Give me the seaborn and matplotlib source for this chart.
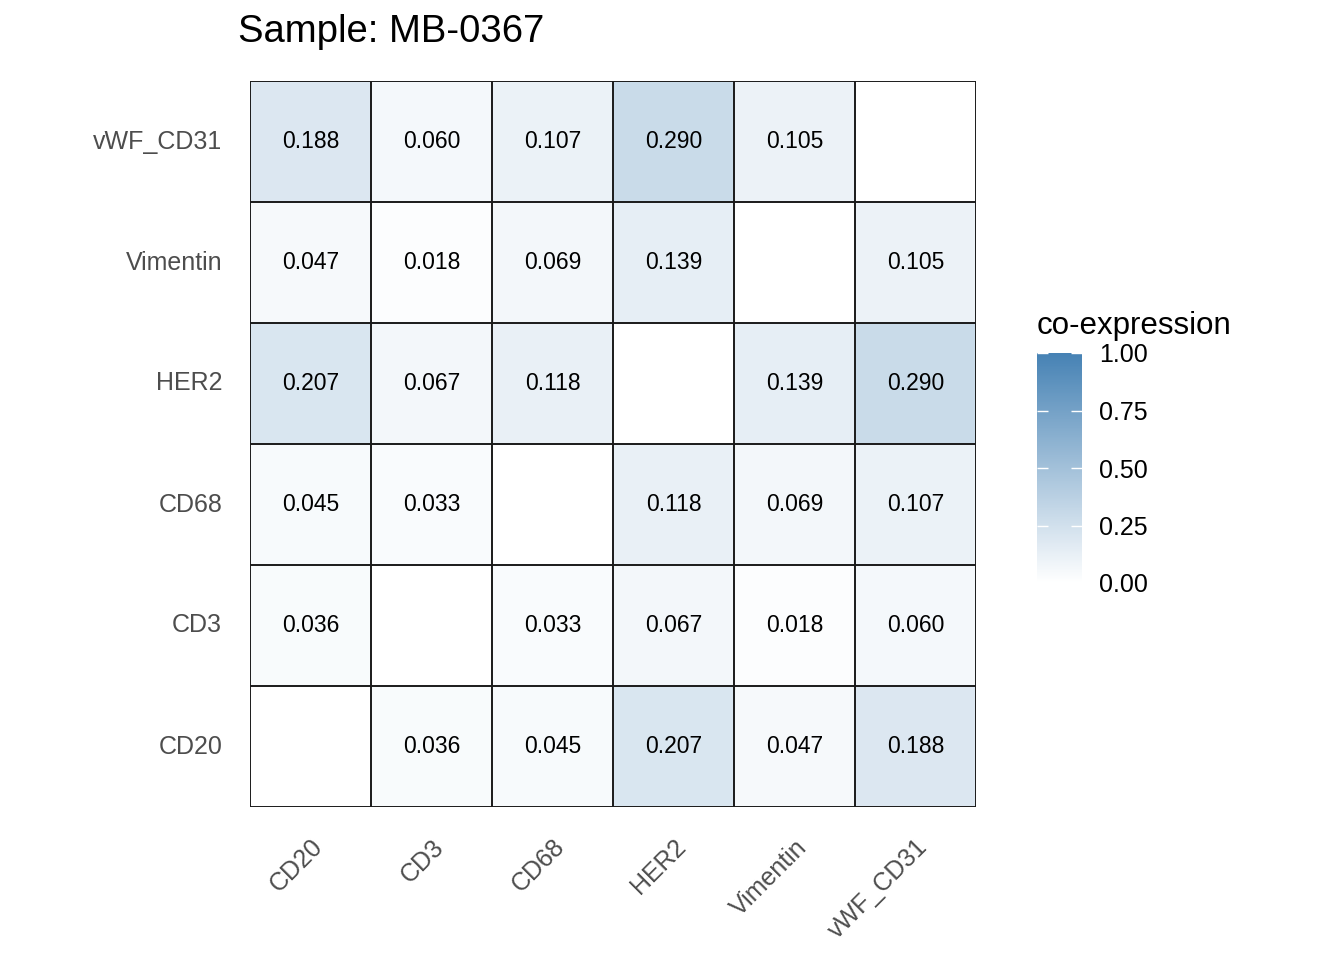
import numpy as np
import pandas as pd
import matplotlib
matplotlib.use("Agg")
import matplotlib.pyplot as plt
import seaborn as sns
from matplotlib.colors import LinearSegmentedColormap

markers = ["CD20", "CD3", "CD68", "HER2", "Vimentin", "vWF_CD31"]

# upper triangle of the symmetric co-expression matrix (row, col, value)
pairs = [
    ("CD20", "CD3", 0.036), ("CD20", "CD68", 0.045), ("CD20", "HER2", 0.207),
    ("CD20", "Vimentin", 0.047), ("CD20", "vWF_CD31", 0.188),
    ("CD3", "CD68", 0.033), ("CD3", "HER2", 0.067), ("CD3", "Vimentin", 0.018),
    ("CD3", "vWF_CD31", 0.060),
    ("CD68", "HER2", 0.118), ("CD68", "Vimentin", 0.069), ("CD68", "vWF_CD31", 0.107),
    ("HER2", "Vimentin", 0.139), ("HER2", "vWF_CD31", 0.290),
    ("Vimentin", "vWF_CD31", 0.105),
]
cbar_ticks = [0.0, 0.25, 0.5, 0.75, 1.0]

mat = pd.DataFrame(np.nan, index=markers, columns=markers)
for a, b, v in pairs:
    mat.loc[a, b] = v
    mat.loc[b, a] = v
# top row = vWF_CD31
mat = mat.iloc[::-1]

sns.set_style("white")
plt.rcParams['font.family'] = ['Liberation Sans', 'DejaVu Sans']

cmap = LinearSegmentedColormap.from_list("wb", ["#FFFFFF", "#4682B4"])

fig = plt.figure(figsize=(13.44, 9.6), dpi=100)
W, H = 1344, 960
ax = fig.add_axes([250 / W, 1 - 807 / H, 726 / W, 726 / H])
cax = fig.add_axes([1037 / W, 1 - 583 / H, 45 / W, 230 / H])

sns.heatmap(mat, ax=ax, cmap=cmap, vmin=0, vmax=1, annot=True, fmt=".3f",
            annot_kws={"fontsize": 16.5, "color": "black"},
            cbar_ax=cax, cbar_kws={"ticks": cbar_ticks}, square=False)

n = len(markers)
ax.hlines(range(n + 1), 0, n, colors="#1A1A1A", linewidth=1.4)
ax.vlines(range(n + 1), 0, n, colors="#1A1A1A", linewidth=1.4)
for s in ax.spines.values():
    s.set_visible(False)

ax.set_xlabel("")
ax.set_ylabel("")
ax.tick_params(axis="both", length=0, labelsize=18, labelcolor="#4D4D4D")
ax.set_xticklabels(ax.get_xticklabels(), rotation=45, ha="right", rotation_mode="anchor")
ax.set_yticklabels(ax.get_yticklabels(), rotation=0)
ax.tick_params(axis="y", pad=20)
ax.tick_params(axis="x", pad=20)

fig.text(238 / W, 1 - 32 / H, "Sample: MB-0367", fontsize=27.5, va="center", ha="left",
         color="black")

cbar = ax.collections[0].colorbar
cbar.outline.set_visible(False)
cax.set_axisbelow(False)
cbar.ax.tick_params(direction="in", color="white", left=True, right=True,
                    length=8, width=1, labelsize=18, labelcolor="black", pad=12)
cbar.set_ticklabels(["0.00", "0.25", "0.50", "0.75", "1.00"])
cax.set_title("co-expression", fontsize=22.5, loc="left", pad=14, x=0.0, color="black")

fig.savefig("out.png", dpi=100)
